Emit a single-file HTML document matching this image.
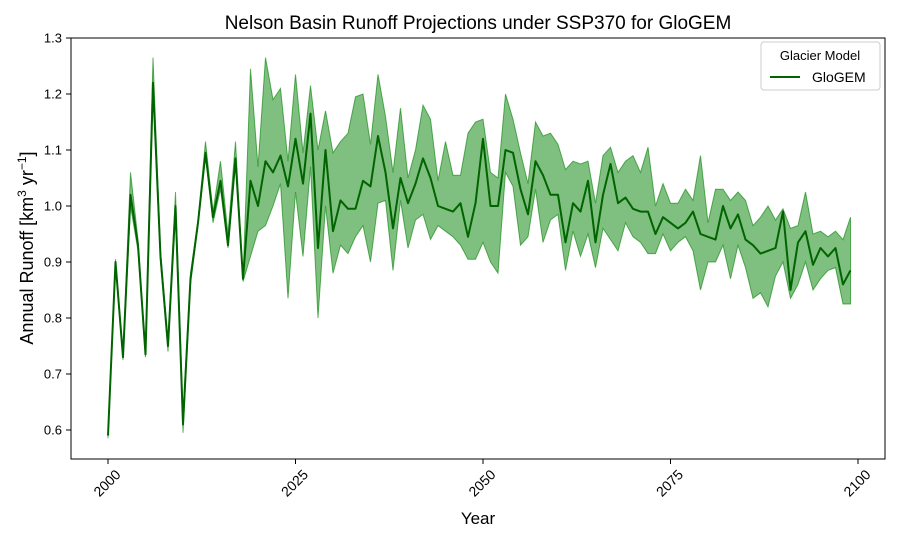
<!DOCTYPE html>
<html><head><meta charset="utf-8"><style>
body{margin:0;background:#fff;}
svg text{font-family:"Liberation Sans","DejaVu Sans",sans-serif;fill:#000;}
</style></head><body>
<svg id="chart" width="900" height="540" xmlns="http://www.w3.org/2000/svg">
<rect width="900" height="540" fill="#fff"/>
<text x="478" y="29" font-size="19" text-anchor="middle">Nelson Basin Runoff Projections under SSP370 for GloGEM</text>
<g id="plot"></g>
<rect x="71" y="38" width="814" height="421" fill="none" stroke="#000" stroke-width="1"/>
<g id="xt"></g>
<g id="yt"></g>
<text x="478" y="524" font-size="17" text-anchor="middle">Year</text>
<text transform="translate(33,248) rotate(-90)" font-size="18" text-anchor="middle">Annual Runoff [km<tspan font-size="12" dy="-7">3</tspan><tspan dy="7"> yr</tspan><tspan font-size="12" dy="-7">−1</tspan><tspan dy="7">]</tspan></text>
<g>
<rect x="761" y="42" width="119" height="48" rx="3" fill="#fff" stroke="#ccc" stroke-width="1"/>
<text x="820" y="60" font-size="13" text-anchor="middle">Glacier Model</text>
<line x1="770" y1="77" x2="800" y2="77" stroke="#006400" stroke-width="2"/>
<text x="812" y="82" font-size="14">GloGEM</text>
</g>
</svg>
<script>
const years=[];for(let y=2000;y<=2099;y++)years.push(y);
const meanVals=[0.59,0.90,0.73,1.02,0.93,0.735,1.22,0.91,0.75,1.0,0.61,0.87,0.97,1.095,0.98,1.045,0.93,1.085,0.87,1.045,
1.0,1.08,1.06,1.09,1.035,1.12,1.04,1.165,0.925,1.1,0.955,1.01,0.995,0.995,1.045,1.035,1.125,1.06,0.96,1.05,
1.005,1.04,1.085,1.05,1.0,0.995,0.99,1.005,0.945,1.005,1.12,1.0,1.0,1.1,1.095,1.03,0.985,1.08,1.055,1.02,
1.02,0.935,1.005,0.99,1.045,0.935,1.02,1.075,1.005,1.015,0.995,0.99,0.99,0.95,0.98,0.97,0.96,0.97,0.99,0.95,
0.945,0.94,1.0,0.96,0.985,0.94,0.93,0.915,0.92,0.925,0.99,0.85,0.935,0.955,0.895,0.925,0.91,0.925,0.86,0.885];
const maxVals=[0.6,0.905,0.735,1.06,0.94,0.74,1.265,0.92,0.76,1.025,0.63,0.88,0.975,1.115,0.99,1.08,0.95,1.115,0.87,1.245,
1.07,1.265,1.19,1.21,1.08,1.235,1.095,1.215,1.1,1.17,1.095,1.115,1.13,1.195,1.2,1.11,1.235,1.16,1.06,1.175,
1.05,1.1,1.18,1.155,1.045,1.115,1.055,1.055,1.13,1.15,1.155,1.06,1.05,1.2,1.155,1.095,1.04,1.15,1.125,1.13,
1.11,1.065,1.08,1.075,1.08,1.005,1.09,1.105,1.06,1.08,1.09,1.06,1.105,1.0,1.04,1.005,1.005,1.03,1.01,1.09,
0.97,1.03,1.03,1.01,1.025,1.01,0.965,0.98,1.0,0.975,0.995,0.96,0.965,1.025,0.95,0.955,0.945,0.955,0.94,0.98];
const minVals=[0.585,0.895,0.725,1.0,0.92,0.73,1.21,0.9,0.74,1.0,0.595,0.86,0.965,1.09,0.97,1.03,0.925,1.08,0.865,0.91,
0.955,0.965,1.0,1.04,0.835,1.025,0.91,1.07,0.8,1.0,0.88,0.93,0.915,0.945,0.965,0.9,1.005,1.01,0.885,1.01,
0.925,0.975,0.985,0.94,0.965,0.955,0.945,0.93,0.905,0.905,0.935,0.9,0.88,1.06,1.035,0.93,0.945,1.03,0.935,0.975,
0.985,0.885,0.955,0.91,0.95,0.89,0.96,0.94,0.92,0.97,0.945,0.935,0.915,0.915,0.95,0.92,0.935,0.945,0.92,0.85,
0.9,0.9,0.93,0.87,0.93,0.89,0.835,0.845,0.82,0.875,0.9,0.835,0.86,0.9,0.85,0.87,0.885,0.89,0.825,0.825];
const xTicks=[2000,2025,2050,2075,2100];
const yTicks=[0.6,0.7,0.8,0.9,1.0,1.1,1.2,1.3];

const NS="http://www.w3.org/2000/svg";
const X=v=>108+(v-2000)*7.5;
const Y=v=>38+(1.3-v)*560;
function mk(tag,attrs,parent){const e=document.createElementNS(NS,tag);for(const k in attrs)e.setAttribute(k,attrs[k]);parent.appendChild(e);return e;}
const plot=document.getElementById('plot');
let d='';
years.forEach((y,i)=>{d+=(i?'L':'M')+X(y)+','+Y(maxVals[i]);});
for(let i=years.length-1;i>=0;i--)d+='L'+X(years[i])+','+Y(minVals[i]);
d+='Z';
const band=mk('path',{d:d,fill:'#008000','fill-opacity':0.5,stroke:'#008000','stroke-opacity':0.6,'stroke-width':1},plot);


const line=mk('polyline',{points:years.map((y,i)=>X(y)+','+Y(meanVals[i])).join(' '),fill:'none',stroke:'#006400','stroke-width':2,'stroke-linejoin':'round'},plot);


const xt=document.getElementById('xt');
xTicks.forEach(t=>{
  const x=X(t);
  mk('line',{x1:x,y1:459,x2:x,y2:464,stroke:'#000'},xt);
  const tx=mk('text',{transform:`translate(${x-1},${483}) rotate(-45)`,'font-size':14,'text-anchor':'middle',dy:'0.35em'},xt);
  tx.textContent=t;
  
  
});
const yt=document.getElementById('yt');
yTicks.forEach(t=>{
  const y=Y(t);
  mk('line',{x1:66,y1:y,x2:71,y2:y,stroke:'#000'},yt);
  const tx=mk('text',{x:62,y:y+4.5,'font-size':13,'text-anchor':'end'},yt);
  tx.textContent=t.toFixed(1);
  
  
});
</script>
</body></html>
